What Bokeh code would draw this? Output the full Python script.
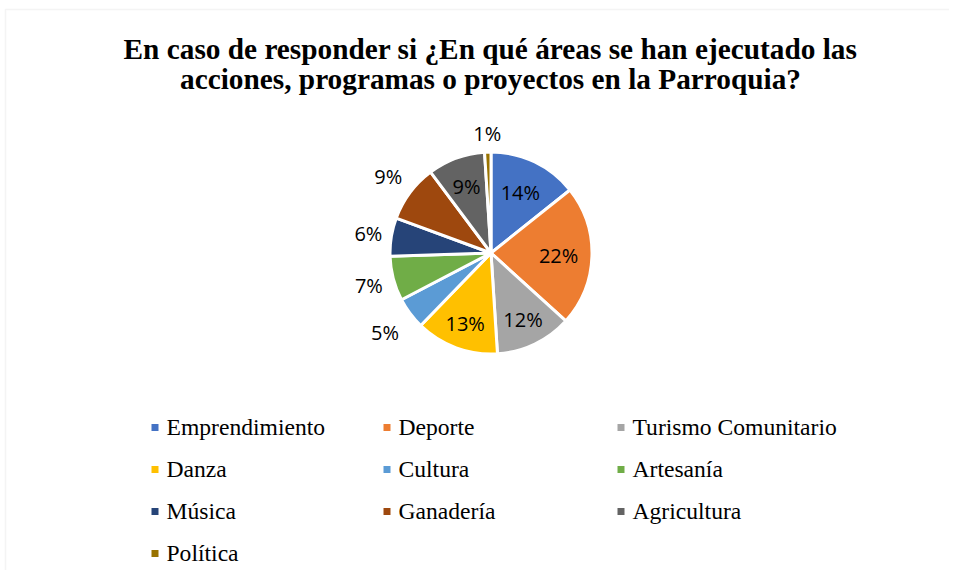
import numpy as np
from bokeh.plotting import figure
from bokeh.models import ColumnDataSource, Range1d, BoxAnnotation
from bokeh.core.properties import value
from bokeh.embed import file_html
from bokeh.resources import INLINE

# ---- data ----
title_lines = ["En caso de responder si ¿En qué áreas se han ejecutado las",
               "acciones, programas o proyectos en la Parroquia?"]
categories = ["Emprendimiento", "Deporte", "Turismo Comunitario", "Danza", "Cultura",
              "Artesanía", "Música", "Ganadería", "Agricultura", "Política"]
percents = [14, 22, 12, 13, 5, 7, 6, 9, 9, 1]
colors = ["#4472C4", "#ED7D31", "#A5A5A5", "#FFC000", "#5B9BD5",
          "#70AD47", "#264478", "#9E480E", "#636363", "#997300"]

# ---- layout (1 data unit = 1 pixel) ----
W, H = 949, 570
cx, cy, R = 490.5, 317.5, 101
label_r = [0.67, 0.67, 0.73, 0.74, 1.31, 1.25, 1.23, 1.27, 0.70, 1.18]

vals = np.array(percents, dtype=float)
frac = vals / vals.sum()
c1 = np.cumsum(frac)
c0 = c1 - frac
start = np.pi / 2 - 2 * np.pi * c0
end = np.pi / 2 - 2 * np.pi * c1
mid = (start + end) / 2
lr = np.array(label_r) * R

src = ColumnDataSource(dict(
    cat=categories, start=start, end=end, color=colors,
    lx=cx + lr * np.cos(mid), ly=cy + lr * np.sin(mid),
    lab=[f"{v}%" for v in percents],
))

p = figure(width=W, height=H, output_backend="svg", toolbar_location=None,
           x_range=Range1d(0, W), y_range=Range1d(0, H), min_border=0,
           outline_line_color=None, background_fill_color="white")
p.axis.visible = False
p.grid.visible = False

# chart area border (only top and left edges fall inside the view)
p.add_layout(BoxAnnotation(left=5, right=W + 20, top=H - 9, bottom=-20,
                           fill_alpha=0, line_color="#D9D9D9", line_width=1.5))

p.wedge(x=cx, y=cy, radius=R, start_angle="start", end_angle="end",
        direction="clock", fill_color="color", line_color="white",
        line_width=3, source=src)

p.text(x="lx", y="ly", text="lab", source=src, text_align="center",
       text_baseline="middle", text_font=value("Open Sans"),
       text_font_size="20px", text_color="#000000")

# title
p.text(x=[490, 490], y=[H - 48, H - 78], text=title_lines, text_align="center",
       text_baseline="middle", text_font=value("Liberation Serif"),
       text_font_style="bold", text_font_size="29.3px", text_color="#000000")

# legend (3 columns)
col_x = [154.5, 386.5, 620.5]
row_y = [H - 427, H - 469, H - 511, H - 553]
idx = np.arange(len(categories))
lsrc = ColumnDataSource(dict(
    mx=[col_x[i % 3] for i in idx], my=[row_y[i // 3] for i in idx],
    tx=[col_x[i % 3] + 11.5 for i in idx], ty=[row_y[i // 3] + 1 for i in idx],
    cat=categories, color=colors))
p.scatter(x="mx", y="my", marker="square", size=7, fill_color="color",
          line_color=None, source=lsrc)
p.text(x="tx", y="ty", text="cat", source=lsrc, text_align="left",
       text_baseline="middle", text_font=value("Liberation Serif"),
       text_font_size="23.6px", text_color="#000000")

open("out.html", "w").write(file_html(p, INLINE))
